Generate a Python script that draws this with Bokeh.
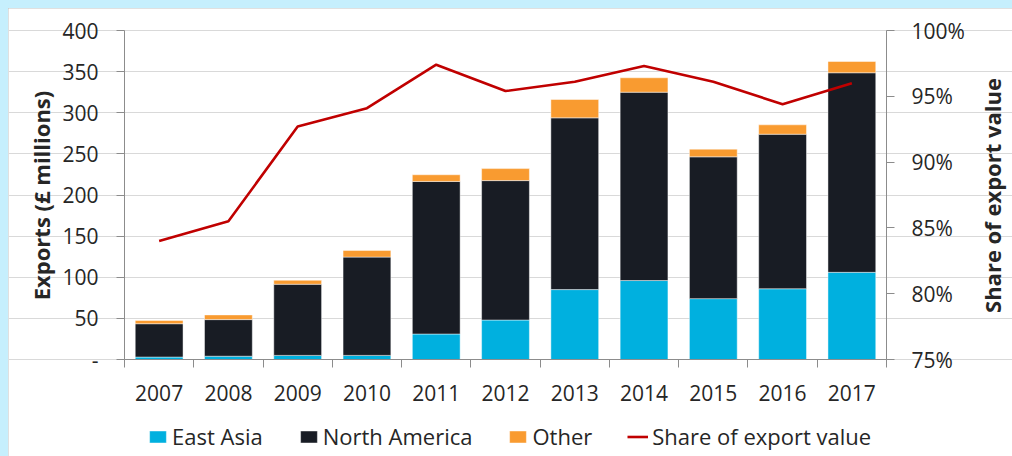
import math
from bokeh.plotting import figure
from bokeh.models import (Range1d, LinearAxis, FixedTicker, Legend, LegendItem,
                          ColumnDataSource, Label)
from bokeh.embed import file_html
from bokeh.resources import INLINE

years = [2007, 2008, 2009, 2010, 2011, 2012, 2013, 2014, 2015, 2016, 2017]
east_asia = [3.0, 4.0, 5.0, 5.0, 31.0, 48.0, 85.0, 96.0, 74.0, 86.0, 106.0]
north_america = [40.5, 44.5, 86.5, 119.5, 185.5, 169.5, 208.8, 229.0, 172.4, 187.9, 242.6]
other = [4.0, 5.7, 4.8, 8.1, 8.1, 14.6, 22.3, 17.5, 9.3, 11.4, 13.7]
share = [84.0, 85.5, 92.7, 94.1, 97.4, 95.4, 96.1, 97.3, 96.1, 94.4, 96.0]

left_ticks = [0, 50, 100, 150, 200, 250, 300, 350, 400]
right_ticks = [75, 80, 85, 90, 95, 100]
series_names = ["East Asia", "North America", "Other"]
line_name = "Share of export value"
left_title = "Exports (£ millions)"

FONT = "Open Sans"
AXIS_GREY = "#8c8c8c"
TEXT = "#262626"

# ---- layout (pixels inside the 1004 x 448 figure) ----
W, H = 1004, 448
PL, PR, PT, PB = 116, 878, 22, 351      # plot box: left, right, top, bottom
x_lo, x_hi = years[0] - 0.5, years[-1] + 0.5
y_lo, y_hi = left_ticks[0], left_ticks[-1]
r_lo, r_hi = right_ticks[0], right_ticks[-1]

xs = (x_hi - x_lo) / (PR - PL)
ys = (y_hi - y_lo) / (PB - PT)
rs = (r_hi - r_lo) / (PB - PT)

src = ColumnDataSource(dict(year=years, ea=east_asia, na=north_america,
                            ot=other, share=share))

p = figure(width=W, height=H,
           x_range=Range1d(x_lo - PL * xs, x_hi + (W - PR) * xs),
           y_range=Range1d(y_lo - (H - PB) * ys, y_hi + PT * ys),
           output_backend="svg", toolbar_location=None,
           min_border_left=0, min_border_right=0, min_border_top=0,
           min_border_bottom=0)
p.styles = {"outline": "1px solid #c0c0c0", "outline-offset": "-1px"}
p.background_fill_color = "white"
p.border_fill_color = "white"
p.outline_line_color = None
p.extra_y_ranges = {"share": Range1d(r_lo - (H - PB) * rs, r_hi + PT * rs)}

# grid
p.xgrid.grid_line_color = None
p.ygrid.ticker = FixedTicker(ticks=left_ticks)
p.ygrid.bounds = (x_lo, x_hi)
p.ygrid.grid_line_color = "#d9d9d9"
p.ygrid.grid_line_width = 1

# bars and line
renderers = p.vbar_stack(["ea", "na", "ot"], x="year", width=0.69, source=src,
                         color=["#00B0DF", "#181C24", "#F99B30"],
                         line_color="white", line_alpha=0.45, line_width=1)
line_r = p.line("year", "share", source=src, y_range_name="share",
                line_color="#C00000", line_width=2.6)

# left axis
yax = p.yaxis[0]
yax.fixed_location = x_lo
yax.bounds = (y_lo, y_hi)
yax.ticker = FixedTicker(ticks=left_ticks)
yax.major_label_overrides = {0: "-"}
yax.major_label_text_font = FONT
yax.major_label_text_font_size = "21px"
yax.major_label_text_color = TEXT
yax.major_label_standoff = 18
yax.major_tick_out = 8
yax.major_tick_in = 0
yax.minor_tick_line_color = None
yax.axis_line_color = AXIS_GREY
yax.major_tick_line_color = AXIS_GREY

# right axis
rax = LinearAxis(y_range_name="share", ticker=FixedTicker(ticks=right_ticks),
                 bounds=(r_lo, r_hi), fixed_location=x_hi)
rax.major_label_overrides = {t: f"{t}%" for t in right_ticks}
rax.major_label_text_font = FONT
rax.major_label_text_font_size = "21px"
rax.major_label_text_color = TEXT
rax.major_label_standoff = 17
rax.major_tick_out = 8
rax.major_tick_in = 0
rax.minor_tick_line_color = None
rax.axis_line_color = AXIS_GREY
rax.major_tick_line_color = AXIS_GREY
p.add_layout(rax, "right")

# x axis at value 0: labels at years, ticks between them
xax = p.xaxis[0]
xax.fixed_location = 0
xax.bounds = (x_lo, x_hi)
xax.ticker = FixedTicker(ticks=years, minor_ticks=[y - 0.5 for y in years] + [years[-1] + 0.5])
xax.major_label_overrides = {y: str(y) for y in years}
xax.major_label_text_font = FONT
xax.major_label_text_font_size = "21px"
xax.major_label_text_color = TEXT
xax.major_label_standoff = 17
xax.major_tick_line_color = None
xax.major_tick_out = 0
xax.major_tick_in = 0
xax.minor_tick_out = 8
xax.minor_tick_in = 0
xax.minor_tick_line_color = AXIS_GREY
xax.axis_line_color = AXIS_GREY

# axis titles (rotated, reading upwards)
for txt, sx in ((left_title, 32), (line_name, 983)):
    p.add_layout(Label(x=sx, y=H - 187, x_units="screen", y_units="screen",
                       text=txt, angle=math.pi / 2, text_align="center",
                       text_baseline="middle", text_font=FONT,
                       text_font_size="22px", text_font_style="bold",
                       text_color=TEXT))

# legend at the bottom
items = [LegendItem(label=series_names[i], renderers=[renderers[i]]) for i in range(3)]
items.append(LegendItem(label=line_name, renderers=[line_r]))
lg = Legend(items=items, location=(139, 5), orientation="horizontal",
            glyph_width=21, glyph_height=15, label_standoff=4,
            label_text_font=FONT, label_text_font_size="22px",
            label_text_color=TEXT, padding=0, margin=0, spacing=35,
            border_line_color=None, background_fill_alpha=0)
p.add_layout(lg, "center")

html = file_html(p, INLINE)
style = ("<style>html, body {background-color:#C6EFFD !important;} "
         "body {padding: 8px 0 0 8px !important; overflow: hidden;}</style>")
html = html.replace("</head>", style + "</head>", 1)
open("out.html", "w").write(html)
